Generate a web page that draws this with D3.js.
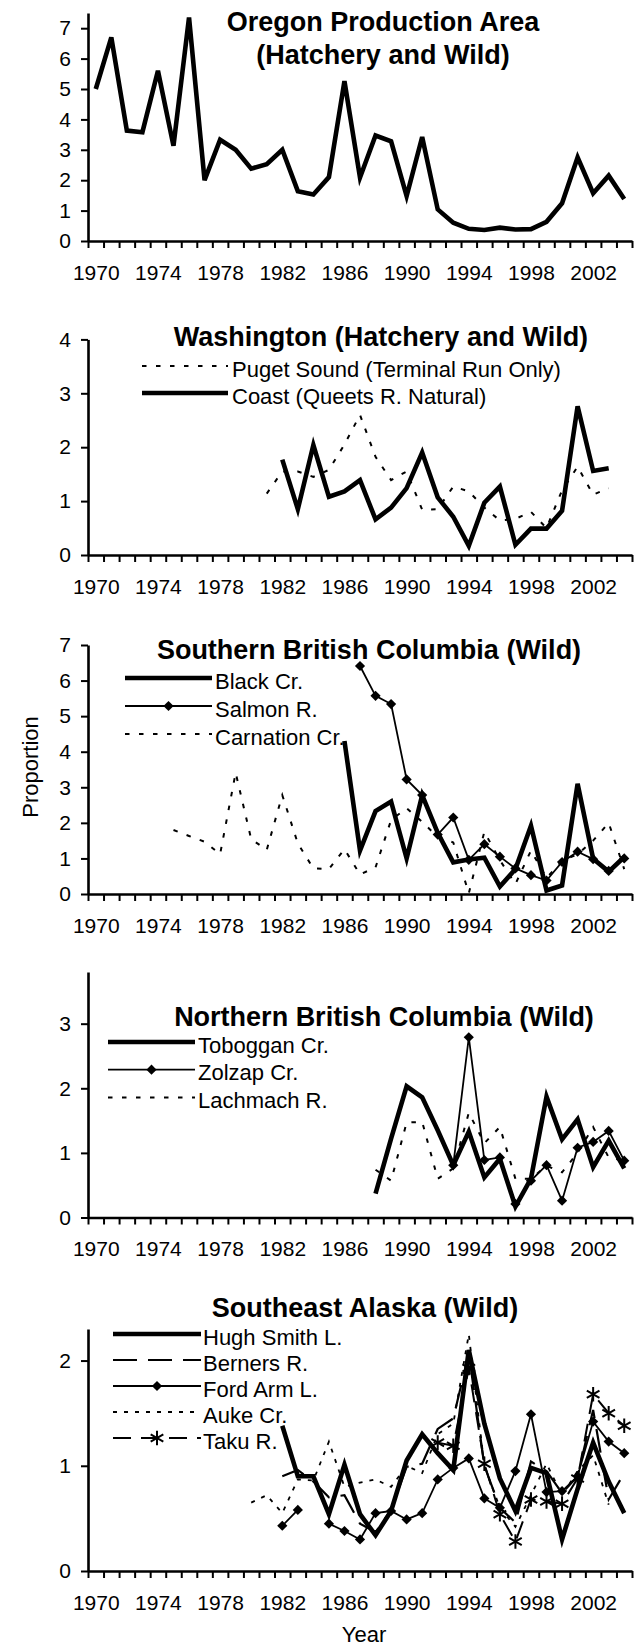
<!DOCTYPE html>
<html>
<head>
<meta charset="utf-8">
<script src="https://cdn.jsdelivr.net/npm/d3@7"></script>
<style>
  body { margin: 0; background: #fff; }
  text { font-family: "Liberation Sans", Arial, sans-serif; fill: #000; }
</style>
</head>
<body>
<div id="chart"></div>
<script>
// ---- data ----
const yearLabels = [1970, 1974, 1978, 1982, 1986, 1990, 1994, 1998, 2002]

// Oregon Production Area, 1970-2004
const oregon = [5.0, 6.7, 3.63, 3.58, 5.6, 3.13, 7.35, 2.0, 3.33, 3.0, 2.38, 2.53, 3.0, 1.64, 1.53, 2.1, 5.26, 2.09, 3.47, 3.28,
  1.48, 3.42, 1.04, 0.6, 0.4, 0.36, 0.44, 0.38, 0.39, 0.63, 1.24, 2.75, 1.57, 2.15, 1.38]

// Washington
const pugetSound = [1.14, 1.55, 1.55, 1.45, 1.58, 2.05, 2.6, 1.82, 1.39, 1.55, 0.84, 0.85, 1.27, 1.18, 0.88, 0.64, 0.67, 0.8,
  0.5, 1.2, 1.64, 1.12, 1.24] // 1981-2003
const coast = [1.77, 0.85, 2.04, 1.08, 1.18, 1.39, 0.66, 0.88, 1.24, 1.9, 1.07, 0.71, 0.17, 0.97, 1.27, 0.19, 0.49, 0.49,
  0.82, 2.76, 1.56, 1.61] // 1982-2003

// Southern British Columbia
const blackCr = [4.3, 1.22, 2.33, 2.6, 1.0, 2.78, 1.72, 0.89, 0.97, 1.02, 0.21, 0.7, 1.92, 0.1, 0.24, 3.1, 0.99, 0.63, 1.04] // 1986-2004
const salmonR = [6.41, 5.57, 5.34, 3.22, 2.78, 1.67, 2.15, 0.96, 1.4, 1.05, 0.72, 0.53, 0.38, 0.9, 1.19, 0.98, 0.65, 1.0] // 1987-2004
const carnationCr = [1.8, 1.63, 1.47, 1.12, 3.41, 1.54, 1.24, 2.78, 1.42, 0.72, 0.7, 1.26, 0.55, 0.75, 2.08, 2.41, 2.03, 1.6,
  1.45, 0.02, 1.75, 0.95, 0.28, 1.22, 0.45, 0.93, 1.12, 1.5, 2.0, 0.7] // 1975-2004

// Northern British Columbia
const tobogganCr = [0.37, 1.22, 2.03, 1.86, 1.35, 0.81, 1.33, 0.62, 0.91, 0.17, 0.6, 1.87, 1.21, 1.52, 0.78, 1.19, 0.76] // 1988-2004
const zolzapCr = [0.81, 2.79, 0.89, 0.93, 0.21, 0.57, 0.81, 0.26, 1.08, 1.17, 1.34, 0.88] // 1993-2004
const lachmachR = [0.74, 0.57, 1.47, 1.48, 0.6, 0.76, 1.62, 1.15, 1.4, 0.6, 0.6, 0.8, 0.7, 1.0, 1.4, 0.93, 0.88] // 1988-2004

// Southeast Alaska
const hughSmithL = [1.38, 0.9, 0.9, 0.54, 1.01, 0.54, 0.34, 0.57, 1.05, 1.3, 1.12, 0.96, 2.1, 1.4, 0.88, 0.57, 0.98, 0.93,
  0.3, 0.78, 1.22, 0.85, 0.55] // 1982-2004
const bernersR = [0.9, 0.96, 0.85, 0.7, 0.72, 0.45, 0.37, 0.58, 0.99, 1.02, 1.35, 1.45, 2.07, 1.0, 0.6, 0.46, 1.04, 0.95,
  0.74, 0.9, 1.53, 0.68, 0.93] // 1982-2004
const fordArmL = [0.43, 0.58, null, 0.45, 0.38, 0.3, 0.55, 0.57, 0.49, 0.55, 0.87, 0.98, 1.07, 0.69, 0.6, 0.95, 1.49, 0.75,
  0.76, 0.9, 1.42, 1.23, 1.12] // 1982-2004
const aukeCr = [0.65, 0.72, 0.55, 0.87, 0.86, 1.23, 0.8, 0.84, 0.87, 0.8, 1.0, 0.93, 1.3, 1.4, 2.25, 1.0, 0.6, 0.42, 0.72,
  1.02, 0.72, 0.95, 1.1, 0.63] // 1980-2003
const takuR = [1.22, 1.19, 1.93, 1.02, 0.54, 0.28, 0.68, 0.66, 0.64, 0.88, 1.68, 1.5, 1.38] // 1992-2004

// ---- line styles ----
let styles = {
  thick: { width: 4.6 },
  thin: { width: 1.8, marker: 'diamond' },
  dot: { width: 2, dash: '4.5,9.5' },
  fineDot: { width: 1.8, dash: '4,7' },
  longDash: { width: 2.2, dash: '24,11' },
  taku: { width: 2, dash: '18,10', marker: 'star' }
}

// y0 = pixel of value 0, y1 = pixel of the top of the value axis
let panels = [
  {
    y0: 241, y1: 13, max: 7.5, ticks: 7,
    title: [['Oregon Production Area', 383, 22], ['(Hatchery and Wild)', 383, 55]],
    series: [{ name: 'Oregon', start: 1970, values: oregon, style: 'thick' }],
    legend: null
  },
  {
    y0: 555, y1: 339.4, max: 4, ticks: 4,
    title: [['Washington (Hatchery and Wild)', 381, 337]],
    series: [
      { name: 'Puget Sound (Terminal Run Only)', start: 1981, values: pugetSound, style: 'dot' },
      { name: 'Coast (Queets R. Natural)', start: 1982, values: coast, style: 'thick' }
    ],
    legend: { x0: 142, x1: 228, tx: 232, y: 366, step: 27 }
  },
  {
    y0: 894, y1: 645, max: 7, ticks: 7,
    title: [['Southern British Columbia (Wild)', 369, 650]],
    series: [
      { name: 'Black Cr.', start: 1986, values: blackCr, style: 'thick' },
      { name: 'Salmon R.', start: 1987, values: salmonR, style: 'thin' },
      { name: 'Carnation Cr.', start: 1975, values: carnationCr, style: 'dot' }
    ],
    legend: { x0: 125, x1: 212, tx: 215, y: 678, step: 28 }
  },
  {
    y0: 1217.5, y1: 972, max: 3.8, ticks: 3,
    title: [['Northern British Columbia (Wild)', 384, 1017]],
    series: [
      { name: 'Toboggan Cr.', start: 1988, values: tobogganCr, style: 'thick' },
      { name: 'Zolzap Cr.', start: 1993, values: zolzapCr, style: 'thin' },
      { name: 'Lachmach R.', start: 1988, values: lachmachR, style: 'dot' }
    ],
    legend: { x0: 108, x1: 195, tx: 198, y: 1042, step: 27.7 }
  },
  {
    y0: 1571, y1: 1329, max: 2.3, ticks: 2,
    title: [['Southeast Alaska (Wild)', 365, 1308]],
    series: [
      { name: 'Hugh Smith L.', start: 1982, values: hughSmithL, style: 'thick' },
      { name: 'Berners R.', start: 1982, values: bernersR, style: 'longDash' },
      { name: 'Ford Arm L.', start: 1982, values: fordArmL, style: 'thin' },
      { name: 'Auke Cr.', start: 1980, values: aukeCr, style: 'fineDot' },
      { name: 'Taku R.', start: 1992, values: takuR, style: 'taku' }
    ],
    legend: { x0: 113, x1: 201, tx: 203, y: 1334, step: 26 }
  }
]

let width = 640
let height = 1649
let font = '"Liberation Sans", Arial, sans-serif'

let svg = d3.select('#chart').append('svg')
  .attr('width', width)
  .attr('height', height)

let xScale = d3.scaleLinear().domain([1969.5, 2004.5]).range([88, 632])

let diamond = d3.symbol(d3.symbolSquare, 52)
let star = d3.symbol(d3.symbolAsterisk || d3.symbolCross, 150)

function styleLine(sel, st) {
  sel.attr('fill', 'none')
    .attr('stroke', '#000')
    .attr('stroke-width', st.width)
    .attr('stroke-linejoin', 'miter')
    .attr('stroke-dasharray', st.dash || null)
}

function addMarkers(g, pts, kind) {
  if (kind === 'diamond') {
    g.selectAll(null).data(pts).enter().append('path')
      .attr('d', diamond)
      .attr('fill', '#000')
      .attr('transform', d => `translate(${d[0]},${d[1]}) rotate(45)`)
  } else if (kind === 'star') {
    g.selectAll(null).data(pts).enter().append('path')
      .attr('d', star)
      .attr('fill', 'none')
      .attr('stroke', '#000')
      .attr('stroke-width', 2)
      .attr('transform', d => `translate(${d[0]},${d[1]})`)
  }
}

panels.forEach(p => {
  let yScale = d3.scaleLinear().domain([0, p.max]).range([p.y0, p.y1])

  let g = svg.append('g')

  // x axis: tick marks between the yearly categories
  g.append('g')
    .attr('transform', `translate(0,${p.y0})`)
    .call(d3.axisBottom(xScale).tickValues(d3.range(1969.5, 2005, 1)).tickSize(7).tickSizeOuter(0).tickFormat(''))
    .call(a => a.select('.domain').attr('stroke-width', 2.6))
    .call(a => a.selectAll('.tick line').attr('stroke-width', 2))

  // x labels every 4 years
  g.append('g')
    .attr('transform', `translate(0,${p.y0})`)
    .call(d3.axisBottom(xScale).tickValues(yearLabels).tickSize(0).tickPadding(24).tickFormat(d3.format('d')))
    .call(a => a.select('.domain').remove())
    .call(a => a.selectAll('text').attr('font-size', 21).attr('font-family', font))

  // y axis
  g.append('g')
    .attr('transform', 'translate(88,0)')
    .call(d3.axisLeft(yScale).tickValues(d3.range(0, p.ticks + 1)).tickFormat(d3.format('d'))
      .tickSize(7).tickPadding(10).tickSizeOuter(0))
    .call(a => a.select('.domain').attr('stroke-width', 2.6))
    .call(a => a.selectAll('.tick line').attr('stroke-width', 2))
    .call(a => a.selectAll('text').attr('font-size', 21).attr('font-family', font))

  // title
  p.title.forEach(t => {
    g.append('text')
      .text(t[0])
      .attr('x', t[1])
      .attr('y', t[2])
      .attr('text-anchor', 'middle')
      .attr('dominant-baseline', 'central')
      .attr('font-weight', 'bold')
      .attr('font-size', 27)
  })

  // series
  let line = d3.line()
    .defined(d => d.v != null)
    .x(d => xScale(d.year))
    .y(d => yScale(d.v))

  p.series.forEach(s => {
    let st = styles[s.style]
    let pts = s.values.map((v, i) => ({ year: s.start + i, v: v }))
    g.append('path').datum(pts).attr('d', line).call(styleLine, st)
    if (st.marker) {
      addMarkers(g, pts.filter(d => d.v != null).map(d => [xScale(d.year), yScale(d.v)]), st.marker)
    }
  })

  // legend
  if (p.legend) {
    let L = p.legend
    p.series.forEach((s, i) => {
      let st = styles[s.style]
      let ly = L.y + i * L.step
      g.append('line')
        .attr('x1', L.x0).attr('x2', L.x1)
        .attr('y1', ly).attr('y2', ly)
        .call(styleLine, st)
      if (st.marker) addMarkers(g, [[(L.x0 + L.x1) / 2, ly]], st.marker)
      g.append('text')
        .text(s.name)
        .attr('x', L.tx)
        .attr('y', ly + 3)
        .attr('dominant-baseline', 'central')
        .attr('font-size', 22)
    })
  }
})

// axis titles
svg.append('text')
  .text('Proportion')
  .attr('transform', 'translate(30,767) rotate(-90)')
  .attr('text-anchor', 'middle')
  .attr('dominant-baseline', 'central')
  .attr('font-size', 22)

svg.append('text')
  .text('Year')
  .attr('x', 364)
  .attr('y', 1634)
  .attr('text-anchor', 'middle')
  .attr('dominant-baseline', 'central')
  .attr('font-size', 22)
</script>
</body>
</html>
